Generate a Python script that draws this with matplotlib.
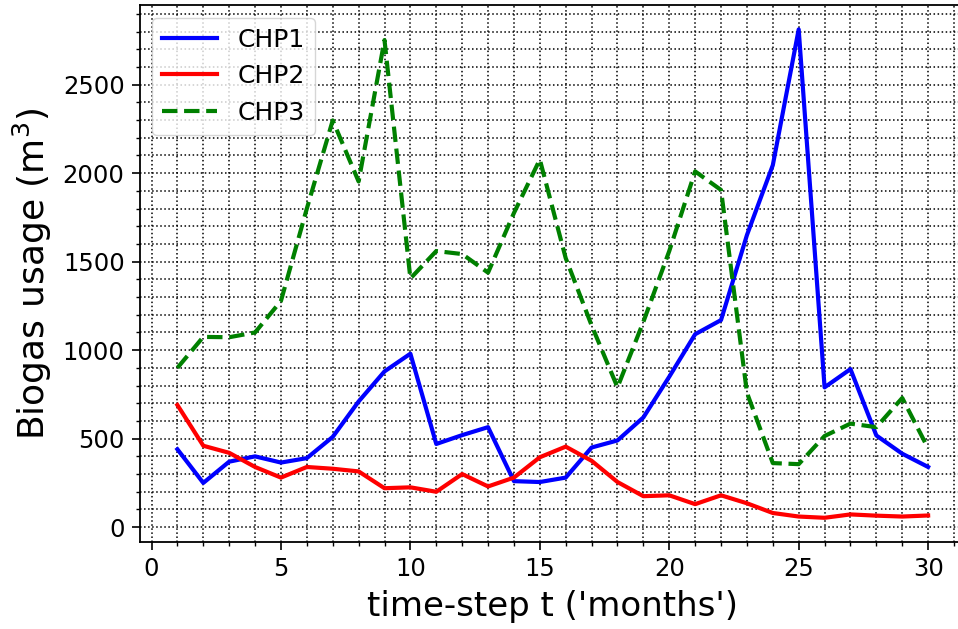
import matplotlib
matplotlib.use('Agg')
import matplotlib.pyplot as plt
from matplotlib.ticker import MultipleLocator

# time steps (months)
t = list(range(1, 31))

# biogas usage per CHP unit (m^3)
chp1 = [440, 250, 370, 400, 365, 390, 510, 710, 880, 980,
        470, 520, 565, 260, 255, 280, 450, 490, 620, 850,
        1090, 1170, 1650, 2045, 2812, 790, 893, 518, 415, 340]
chp2 = [690, 460, 420, 340, 280, 340, 330, 315, 220, 225,
        200, 300, 230, 280, 395, 455, 375, 255, 175, 180,
        130, 180, 135, 80, 60, 53, 72, 65, 60, 66]
chp3 = [900, 1075, 1073, 1100, 1278, 1800, 2298, 1953, 2752, 1405,
        1560, 1543, 1438, 1775, 2077, 1520, 1140, 790, 1160, 1560,
        2010, 1905, 760, 362, 356, 515, 585, 565, 730, 445]

fig = plt.figure(figsize=(9.58, 6.29), dpi=100)
ax = fig.add_axes([0.146, 0.138, 0.862, 0.854])

ax.plot(t, chp1, color='blue', lw=3, label='CHP1')
ax.plot(t, chp2, color='red', lw=3, label='CHP2')
ax.plot(t, chp3, color='green', lw=3, ls='--', label='CHP3')

ax.xaxis.set_major_locator(MultipleLocator(5))
ax.xaxis.set_minor_locator(MultipleLocator(1))
ax.yaxis.set_major_locator(MultipleLocator(500))
ax.yaxis.set_minor_locator(MultipleLocator(100))

ax.grid(which='both', linestyle=':', color='black', linewidth=1.1)
ax.tick_params(which='major', labelsize=17.5, length=6, width=1.2, pad=5)
ax.tick_params(which='minor', length=3, width=1)
for s in ax.spines.values():
    s.set_linewidth(1.3)

ax.set_xlabel("time-step t ('months')", fontsize=24.5, labelpad=6)
ax.set_ylabel('Biogas usage (m$^3$)', fontsize=26, labelpad=6)

ax.legend(loc='upper left', fontsize=18, handlelength=2.2, framealpha=0.8,
          borderaxespad=0.5)

fig.savefig('out.png', dpi=100)
